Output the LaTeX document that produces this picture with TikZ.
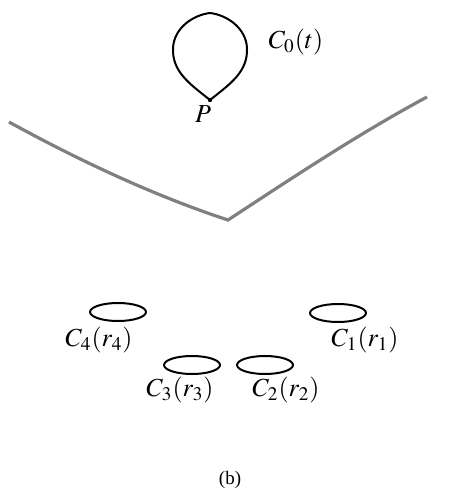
\documentclass[tikz,border=0pt]{standalone}
\usepackage{mathptmx}
\usepackage{fontspec}
\setmainfont{Liberation Serif}
\begin{document}
\begin{tikzpicture}[x = 0.5pt, y = -0.5pt, font = \fontsize{13}{15}\selectfont]
\useasboundingbox (0,0) rectangle (458,497);
\tikzset{loop/.style = {line width = 1pt, line join = round},
	wall/.style = {line width = 1.6pt, draw = gray}}
% the loop through P
\draw[loop] (210,100) .. controls (190,84) and (172,72) .. (173,48)
	.. controls (174,28) and (193,15) .. (210,13)
	.. controls (227,15) and (246,28) .. (247,48)
	.. controls (248,72) and (230,84) .. (210,100);
\fill (210,100) circle (2.2);
\node (P) at (203,114) {$P$};
\node (c0) at (296,42) {$C_0(t)$};
% the gray curve
\draw[wall] (9,122) .. controls (80,161) and (155,196) .. (228,220)
	.. controls (295,176) and (360,133) .. (427,97);
% the small loops
\foreach \x / \y / \i in {338/313/1, 265/365/2, 192/365/3, 118/312/4}
{
	\draw[loop] (\x,\y) ellipse (28 and 9);
}
\foreach \x / \y / \i in {365/340/1, 286/390/2, 180/390/3, 99/340/4}
{
	\node (c\i) at (\x,\y) {$C_{\i}(r_{\i})$};
}
\node[font = \fontsize{9.5}{11}\selectfont] (cap) at (230,480) {(b)};
\end{tikzpicture}
\end{document}
